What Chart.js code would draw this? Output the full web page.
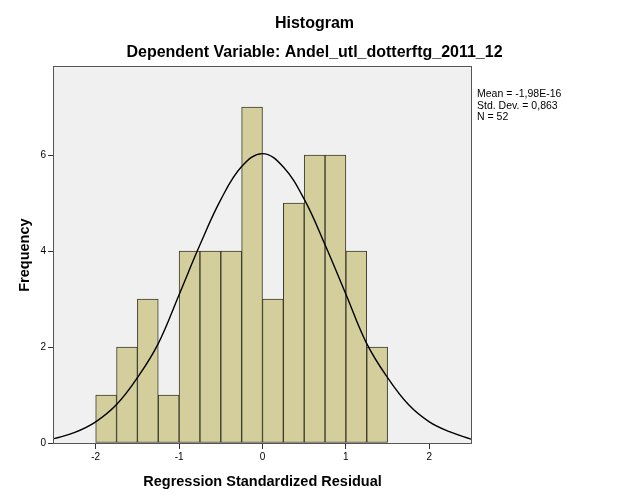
<!DOCTYPE html>
<html>
<head>
<meta charset="utf-8">
<title>Histogram</title>
<script src="https://cdn.jsdelivr.net/npm/chart.js@4.4.1/dist/chart.umd.min.js"></script>
<style>
    body { margin: 0; background: #ffffff; }
    #wrap { width: 629px; height: 504px; }
</style>
</head>
<body>
<div id="wrap"><canvas id="histChart" width="629" height="504"></canvas></div>
<script>
// Bin centres (bin width 0.25) and counts
const binCenters = [-1.875, -1.625, -1.375, -1.125, -0.875, -0.625, -0.375, -0.125,
                    0.125, 0.375, 0.625, 0.875, 1.125, 1.375];
const binCounts = [1, 2, 3, 1, 4, 4, 4, 7, 3, 5, 6, 6, 4, 2];

// Normal curve at steps of 0.25
const curveX = [-2.5, -2.25, -2, -1.75, -1.5, -1.25, -1, -0.75, -0.5, -0.25, 0,
                0.25, 0.5, 0.75, 1, 1.25, 1.5, 1.75, 2, 2.25, 2.5];
const curveY = [0.09, 0.22, 0.44, 0.80, 1.36, 2.07, 3.09, 4.13, 5.07, 5.76, 6.03,
                5.75, 5.08, 4.13, 3.10, 2.07, 1.36, 0.80, 0.44, 0.23, 0.08];

const xTicks = [-2, -1, 0, 1, 2];
const yTicks = [0, 2, 4, 6];
const statsLines = ['Mean = -1,98E-16', 'Std. Dev. = 0,863', 'N = 52'];

document.addEventListener('DOMContentLoaded', function() {
    const ctx = document.getElementById('histChart');
    const fontFamily = '"Liberation Sans", Arial, sans-serif';

    // plot background, frame and the stats box on the right
    const spssFrame = {
        id: 'spssFrame',
        beforeDatasetsDraw: function(chart) {
            const a = chart.chartArea;
            const c = chart.ctx;
            c.save();
            c.fillStyle = '#f0f0f0';
            c.fillRect(a.left, a.top, a.right - a.left, a.bottom - a.top);
            c.restore();
        },
        afterDraw: function(chart) {
            const a = chart.chartArea;
            const c = chart.ctx;
            c.save();
            c.strokeStyle = '#555555';
            c.lineWidth = 1;
            c.strokeRect(Math.round(a.left) - 0.5, Math.round(a.top) - 0.5,
                         Math.round(a.right - a.left) + 1, Math.round(a.bottom - a.top) + 1);
            c.fillStyle = '#000000';
            c.font = '10.5px ' + fontFamily;
            c.textBaseline = 'alphabetic';
            statsLines.forEach(function(txt, i) {
                c.fillText(txt, a.right + 6, 97 + i * 11.5);
            });
            c.restore();
        }
    };

    new Chart(ctx, {
        type: 'bar',
        data: {
            datasets: [
                {
                    type: 'line',
                    data: curveX.map(function(x, i) { return { x: x, y: curveY[i] }; }),
                    borderColor: '#000000',
                    borderWidth: 1.4,
                    pointRadius: 0,
                    tension: 0.4,
                    fill: false,
                    order: 0
                },
                {
                    type: 'bar',
                    data: binCenters.map(function(x, i) { return { x: x, y: binCounts[i] }; }),
                    backgroundColor: '#d3ce9b',
                    borderColor: '#3b3a2a',
                    borderWidth: 1,
                    borderSkipped: false,
                    barPercentage: 1,
                    categoryPercentage: 1,
                    order: 1
                }
            ]
        },
        options: {
            responsive: false,
            animation: false,
            layout: { padding: 0 },
            plugins: {
                legend: { display: false },
                tooltip: { enabled: false },
                title: {
                    display: true,
                    text: 'Histogram',
                    color: '#000000',
                    font: { family: fontFamily, size: 16, weight: 'bold' },
                    padding: { top: 14, bottom: 10 }
                },
                subtitle: {
                    display: true,
                    text: 'Dependent Variable: Andel_utl_dotterftg_2011_12',
                    color: '#000000',
                    font: { family: fontFamily, size: 16, weight: 'bold' },
                    padding: { top: 0, bottom: 4.8 }
                }
            },
            scales: {
                x: {
                    type: 'linear',
                    min: -2.5,
                    max: 2.5,
                    offset: false,
                    afterBuildTicks: function(s) { s.ticks = xTicks.map(function(v) { return { value: v }; }); },
                    afterFit: function(s) { s.height = 61; },
                    grid: { display: true, offset: false, drawOnChartArea: false, drawTicks: true, tickLength: 6, color: '#333333' },
                    border: { display: false },
                    ticks: {
                        color: '#000000',
                        padding: 2,
                        maxRotation: 0,
                        font: { family: fontFamily, size: 10 }
                    },
                    title: {
                        display: true,
                        text: 'Regression Standardized Residual',
                        color: '#000000',
                        font: { family: fontFamily, size: 14.5, weight: 'bold' },
                        padding: { top: 0, bottom: 13.3 }
                    }
                },
                y: {
                    type: 'linear',
                    min: 0,
                    max: 7.83,
                    afterBuildTicks: function(s) { s.ticks = yTicks.map(function(v) { return { value: v }; }); },
                    afterFit: function(s) { s.width = 54; },
                    grid: { display: true, drawOnChartArea: false, drawTicks: true, tickLength: 6, color: '#333333' },
                    border: { display: false },
                    ticks: {
                        color: '#000000',
                        padding: 2,
                        font: { family: fontFamily, size: 10 }
                    },
                    title: {
                        display: true,
                        text: 'Frequency',
                        color: '#000000',
                        font: { family: fontFamily, size: 14.5, weight: 'bold' },
                        padding: { top: 16.3, bottom: 0 }
                    }
                },
                // empty right-hand box that holds the stats text
                side: {
                    type: 'linear',
                    position: 'right',
                    min: 0,
                    max: 1,
                    afterFit: function(s) { s.width = 158; },
                    grid: { display: false },
                    border: { display: false },
                    ticks: { display: false }
                }
            }
        },
        plugins: [spssFrame]
    });
});
</script>
</body>
</html>
